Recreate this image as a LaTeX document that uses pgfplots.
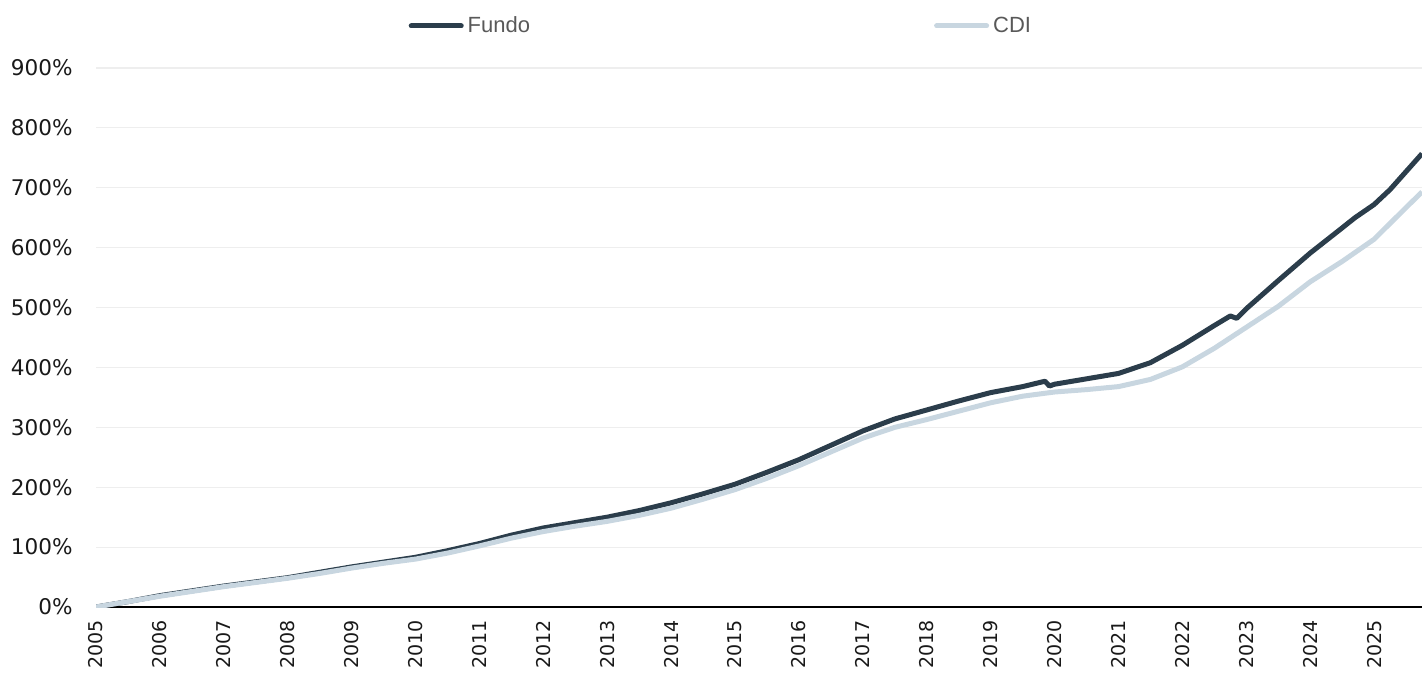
\documentclass[border=0pt]{standalone}
\usepackage{fontspec}
\setmainfont{DejaVu Sans}
\newfontfamily\legfont{Liberation Sans}
\usepackage{pgfplots}
\pgfplotsset{compat=1.18}
\definecolor{fundo}{HTML}{2B3D4B}
\definecolor{cdi}{HTML}{C8D6E0}
\definecolor{gridc}{HTML}{EEEEEE}
\begin{document}
\begin{tikzpicture}
\begin{axis}[
  at={(48pt,34pt)}, anchor=south west,
  scale only axis, width=663pt, height=269.5pt,
  xmin=2005, xmax=2025.75, ymin=0, ymax=900,
  axis lines=left,
  x axis line style={-, black, line width=1pt},
  y axis line style={draw=none},
  tick style={draw=none},
  ymajorgrids, grid style={gridc, line width=0.6pt},
  xtick={2005,2006,...,2025},
  xticklabels={2005,2006,2007,2008,2009,2010,2011,2012,2013,2014,2015,2016,2017,2018,2019,2020,2021,2022,2023,2024,2025},
  xticklabel style={yshift=-1pt, rotate=90, anchor=east, font=\fontsize{9.5}{11}\selectfont, text=black!90},
  ytick={0,100,...,900},
  yticklabels={0\%,100\%,200\%,300\%,400\%,500\%,600\%,700\%,800\%,900\%},
  yticklabel style={xshift=-6pt, font=\fontsize{10.8}{12}\selectfont, text=black!90},
  legend columns=2,
  legend style={at={(0.472,1.078)}, anchor=center, draw=none, fill=none,
    font=\legfont\fontsize{11}{13}\selectfont, text=black!65,
    /tikz/every even column/.append style={column sep=200pt}},
  legend image code/.code={\draw[#1, line width=2.5pt, line cap=round] (0pt,0pt) -- (25pt,0pt);},
  clip=true,
]
\addplot[fundo, line width=2.5pt, line join=round] coordinates {
(2005.0,0) (2005.5,9) (2006.0,19) (2006.5,27) (2007.0,35) (2007.5,42) (2008.0,49)
(2008.5,58) (2009.0,67) (2009.5,75) (2010.0,83) (2010.5,94) (2011.0,106) (2011.5,120)
(2012.0,132) (2012.5,141) (2013.0,150) (2013.5,161) (2014.0,174) (2014.5,189)
(2015.0,205) (2015.5,225) (2016.0,246) (2016.5,270) (2017.0,294) (2017.5,314)
(2018.0,329) (2018.5,344) (2019.0,358) (2019.5,368) (2019.85,377) (2019.92,369)
(2020.0,372) (2020.5,381) (2021.0,390) (2021.5,408) (2022.0,437) (2022.5,470)
(2022.75,486) (2022.85,482) (2023.0,498) (2023.5,545) (2024.0,591) (2024.5,633)
(2024.7,650) (2025.0,672) (2025.25,697) (2025.5,727) (2025.75,757)
};
\addlegendentry{Fundo}
\addplot[cdi, line width=2.5pt, line join=round] coordinates {
(2005.0,0) (2005.5,9) (2006.0,18) (2006.5,26) (2007.0,34) (2007.5,41) (2008.0,48)
(2008.5,56) (2009.0,65) (2009.5,73) (2010.0,80) (2010.5,90) (2011.0,102) (2011.5,115)
(2012.0,126) (2012.5,135) (2013.0,143) (2013.5,153) (2014.0,165) (2014.5,180)
(2015.0,196) (2015.5,215) (2016.0,236) (2016.5,259) (2017.0,282) (2017.5,300)
(2018.0,313) (2018.5,327) (2019.0,341) (2019.5,352) (2020.0,359) (2020.5,363)
(2021.0,368) (2021.5,380) (2022.0,401) (2022.5,432) (2023.0,467) (2023.5,502)
(2024.0,543) (2024.5,577) (2025.0,614) (2025.5,667) (2025.75,693)
};
\addlegendentry{CDI}
\end{axis}
\pgfresetboundingbox
\path (0,0) rectangle (711pt,337.5pt);
\end{tikzpicture}
\end{document}
